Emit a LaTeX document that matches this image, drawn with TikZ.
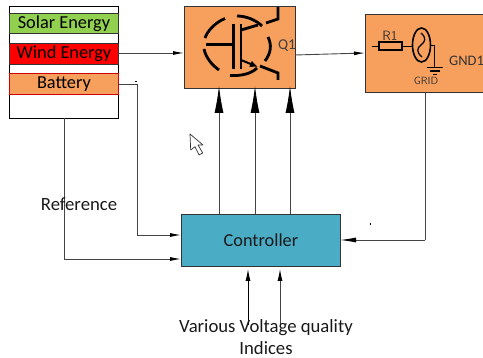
\documentclass[tikz,border=0pt]{standalone}
\usepackage{fontspec}
\setmainfont{Carlito}
\usetikzlibrary{arrows.meta}
\definecolor{boxorange}{HTML}{F79F5C}
\definecolor{boxgreen}{HTML}{92D050}
\definecolor{boxblue}{HTML}{4BACC6}
\definecolor{linegray}{HTML}{444444}
\tikzset{
  block/.style={draw=black!80,line width=0.9pt,anchor=north west,inner sep=0pt},
  source/.style={block,minimum width=109pt,font=\fontsize{18.3}{18}\selectfont},
  label/.style={inner sep=0pt,font=\fontsize{18.7}{19}\selectfont,text=black!90},
  wire/.style={draw=linegray,line width=0.9pt},
  feed/.style={wire,-{Latex[length=11pt,width=4pt,black]}},
  bigarrow/.style={wire,-{Latex[length=27pt,width=9pt,black]}},
  symbol/.style={line width=2.8pt}
}
\begin{document}
\begin{tikzpicture}[x=1pt,y=-1pt]
    \useasboundingbox (0,0) rectangle (483,358);
    % sources
    \node[block,draw=black,fill=white,minimum width=109pt,minimum height=112pt] (panel) at (9,6) {};
    \node[source,fill=boxgreen,minimum height=20pt] (solar) at (9,13) {Solar Energy};
    \node[source,fill=red,minimum height=21pt] (wind) at (9,43) {Wind Energy};
    \node[source,draw=red!80!black,fill=boxorange,minimum height=21pt] (battery) at (9,73) {Battery};
    % main blocks
    \node[block,fill=boxorange,minimum width=111pt,minimum height=82pt] (switch) at (184,6) {};
    \node[block,fill=boxorange,minimum width=125pt,minimum height=78pt] (load) at (365,14) {};
    \node[block,fill=boxblue,minimum width=159pt,minimum height=52pt,font=\fontsize{18.3}{18}\selectfont,text=black!90] (controller) at (181,214) {Controller};
    % free ends
    \coordinate (refdrop) at (64,118);
    \coordinate (reffoot) at (64,259);
    \coordinate (refend) at (181,259);
    \coordinate (batcorner) at (137,84);
    \coordinate (batfoot) at (137,235);
    \coordinate (batend) at (181,235);
    \coordinate (loaddrop) at (425,92);
    \coordinate (loadfoot) at (425,240);
    \coordinate (gatea) at (219,214);
    \coordinate (gateb) at (255,214);
    \coordinate (gatec) at (290,214);
    \coordinate (gatea') at (219,86);
    \coordinate (gateb') at (255,86);
    \coordinate (gatec') at (290,86);
    \coordinate (inputa) at (248,325);
    \coordinate (inputb) at (280,325);
    \coordinate (inputa') at (248,269);
    \coordinate (inputb') at (280,269);
    % connectors
    \draw[feed] (118,53) -- (184,53);
    \draw[wire] (118,84) -- (batcorner) -- (batfoot);
    \draw[feed] (batfoot) -- (batend);
    \draw[wire] (refdrop) -- (reffoot);
    \draw[feed] (reffoot) -- (refend);
    \draw[feed] (295,55) -- (365,53);
    \draw[wire] (loaddrop) -- (loadfoot);
    \draw[wire,-{Latex[length=16pt,width=5pt,black]}] (loadfoot) -- (340,240);
    \foreach \g in {gatea,gateb,gatec}
      \draw[bigarrow] (\g) -- (\g');
    \draw[black,line width=0.9pt,-{Latex[length=12pt,width=5pt]}] (inputa) -- (inputa');
    \draw[wire,-{Latex[length=12pt,width=5pt,black]}] (inputb) -- (inputb');
    % transistor
    \begin{scope}[symbol]
      \draw (225,18.5) .. controls (214,23) and (207,32) .. (205,38);
      \draw (204,49) .. controls (206,58) and (212,65) .. (219,70);
      \draw (230,75.5) .. controls (241,76) and (251,74) .. (257,68);
      \draw (268,37) .. controls (272,45) and (271,53) .. (265,61);
      \draw (237,16) .. controls (246,16) and (256,20) .. (262,26);
      \draw (206,44.5) -- (233,44.5);
      \draw (233.5,24) -- (233.5,69);
      \draw (241,24) -- (241,69);
      \draw (241,30) -- (258,25);
      \draw (266,23) -- (278,19) -- (278,7);
      \draw (260,66) -- (278,73) -- (278,80);
      \draw[line width=2pt,-{Latex[length=8pt,width=7pt]}] (241,60) -- (258,67);
    \end{scope}
    \node[label,font=\fontsize{15}{15}\selectfont,text=black!75] (qlabel) at (287,46) {Q1};
    % grid source
    \draw[line width=0.9pt] (372,46) -- (378,46);
    \draw[line width=2pt] (378.5,42.5) rectangle (402,50);
    \draw[line width=0.9pt] (402,46) -- (413,46);
    \draw[line width=1.6pt] (421.5,45) ellipse (9 and 17);
    \draw[line width=1.2pt] (421,33) .. controls (427,38) and (425,42) .. (421,45) .. controls (417,48) and (416,52) .. (422,57);
    \draw[line width=0.9pt] (430.5,45) -- (434.5,45) -- (434.5,67.5);
    \draw[line width=1.1pt] (427,67.5) -- (443,67.5);
    \draw[line width=1.1pt] (430,71) -- (440,71);
    \draw[line width=1.1pt] (433,74.5) -- (437,74.5);
    \node[label,font=\sffamily\fontsize{13.5}{14}\selectfont,text=black!80] (rlabel) at (390,36) {R1};
    \node[label,font=\sffamily\fontsize{10.5}{11}\selectfont,text=black!80] (gridlabel) at (426,81) {GRID};
    \node[label,font=\fontsize{14.5}{15}\selectfont,text=black!80,anchor=west] (gndlabel) at (449,61) {GND1};
    % labels
    \node[label] (reference) at (79,204) {Reference};
    \node[label] (indicesa) at (266,328) {Various Voltage quality};
    \node[label] (indicesb) at (266,348) {Indices};
    % pointer
    \draw[draw=black!80,fill=white,line width=0.7pt,line join=round] (190,134) -- (190.7,150) -- (195,146.7) -- (199,155) -- (202.7,153) -- (198,145) -- (203,145) -- cycle;
    \fill (369.5,223.5) rectangle (371,225);
    \fill (135,81) rectangle (136.5,82.5);
  \end{tikzpicture}
\end{document}
